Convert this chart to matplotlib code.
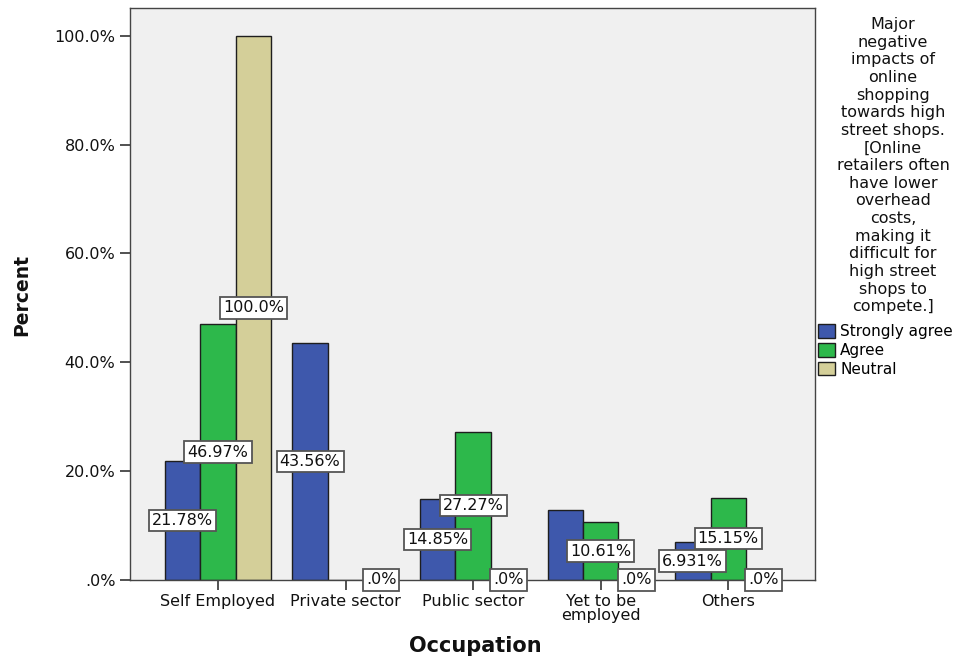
import matplotlib
matplotlib.use("Agg")
import matplotlib.pyplot as plt
import numpy as np
from matplotlib.patches import Patch

plt.rcParams['font.family'] = ['DejaVu Sans']

# Occupation groups and response percentages (within each response)
categories = ["Self Employed", "Private sector", "Public sector", "Yet to be\nemployed", "Others"]
responses = ["Strongly agree", "Agree", "Neutral"]
strongly_agree = [21.78, 43.56, 14.85, 12.87, 6.931]
agree = [46.97, 0.0, 27.27, 10.61, 15.15]
neutral = [100.0, 0.0, 0.0, 0.0, 0.0]
series = [strongly_agree, agree, neutral]

# label text per bar (None where the label is not shown)
label_text = [
    ["21.78%", "43.56%", "14.85%", None, "6.931%"],
    ["46.97%", None, "27.27%", "10.61%", "15.15%"],
    ["100.0%", ".0%", ".0%", ".0%", ".0%"],
]

yticks = [0, 20, 40, 60, 80, 100]
ytick_labels = [".0%", "20.0%", "40.0%", "60.0%", "80.0%", "100.0%"]

colors = ["#3E58AC", "#2DB84B", "#D4CF99"]
legend_title = ("Major\nnegative\nimpacts of\nonline\nshopping\ntowards high\nstreet shops.\n"
                "[Online\nretailers often\nhave lower\noverhead\ncosts,\nmaking it\n"
                "difficult for\nhigh street\nshops to\ncompete.]")

fig = plt.figure(figsize=(9.71, 6.59), dpi=100)
ax = fig.add_axes([130/971, 1-580/659, 685/971, 572/659])
ax.set_facecolor("#F0F0F0")

x = np.arange(len(categories))
width = 0.278
for i, (vals, col) in enumerate(zip(series, colors)):
    pos = x + (i - 1) * width
    ax.bar(pos, vals, width=width, color=col, edgecolor="#1E1E1E", linewidth=1.0, zorder=2)
    for p, v, t in zip(pos, vals, label_text[i]):
        if t is None:
            continue
        ax.text(p, v / 2, t, ha="center", va="center", fontsize=11.5, color="#111111", zorder=5,
                bbox=dict(boxstyle="square,pad=0.2", facecolor="white", edgecolor="#555555", linewidth=1.3))

ax.set_xlim(-0.69, 4.68)
ax.set_ylim(0, 105.1)
ax.set_yticks(yticks)
ax.set_yticklabels(ytick_labels)
ax.set_xticks(x)
ax.set_xticklabels(categories, linespacing=0.95)
ax.tick_params(axis="both", direction="out", length=7, width=1.2, color="#333333",
               labelsize=11.5, labelcolor="#111111")
ax.tick_params(axis="x", pad=3)
for s in ax.spines.values():
    s.set_color("#444444")
    s.set_linewidth(1.0)

fig.text(22/971, 1-295/659, "Percent", rotation=90, ha="center", va="center",
         fontsize=13.5, fontweight="bold", color="#111111")
fig.text(475/971, 1-646/659, "Occupation", ha="center", va="center",
         fontsize=15, fontweight="bold", color="#111111")

fig.text(893/971, 1-17/659, legend_title, ha="center", va="top", fontsize=11.5,
         linespacing=1.22, color="#111111")
handles = [Patch(facecolor=c, edgecolor="#1E1E1E", linewidth=1.0) for c in colors]
fig.legend(handles, responses, loc="upper left", bbox_to_anchor=(818/971, 1-324/659),
           frameon=False, fontsize=11, handlelength=1.1, handleheight=1.0,
           handletextpad=0.35, labelspacing=0.25, borderpad=0, borderaxespad=0)

fig.savefig("out.png", dpi=100, facecolor="white")
